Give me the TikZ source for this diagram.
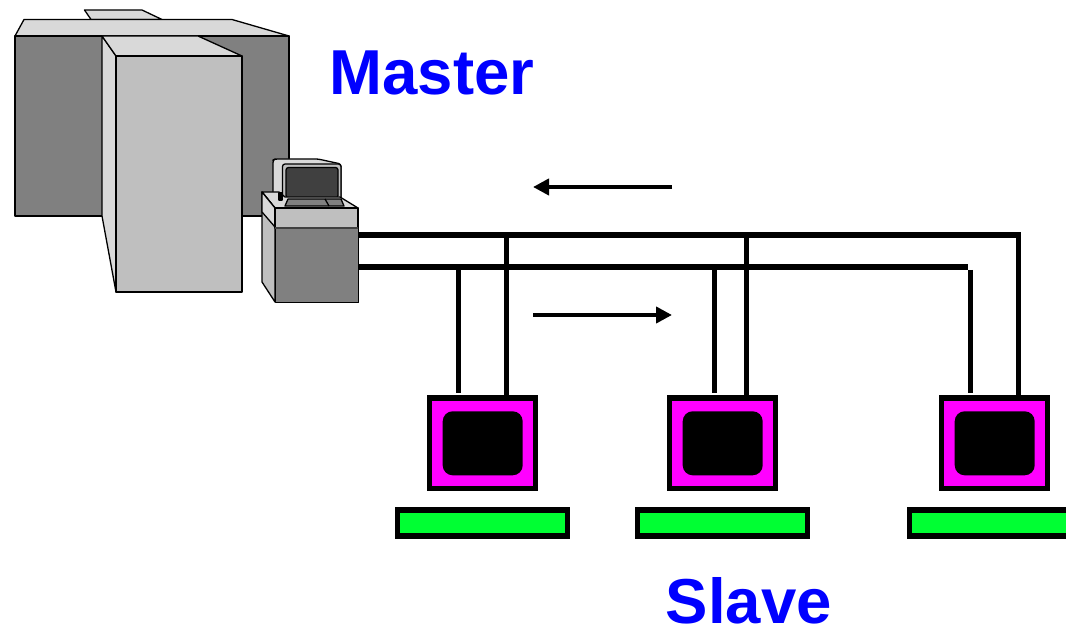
\documentclass[tikz,border=0pt]{standalone}
\usepackage{fontspec}
\setmainfont{Liberation Sans}
\usetikzlibrary{arrows.meta}
\definecolor{lgrey}{HTML}{D9D9D9}
\definecolor{mgrey}{HTML}{BFBFBF}
\definecolor{dgrey}{HTML}{808080}
\definecolor{scr}{HTML}{404040}
\definecolor{mag}{HTML}{FF00FF}
\definecolor{grn}{HTML}{00FF33}
\definecolor{blu}{HTML}{0000FF}
\tikzset{
 x=1pt,y=-1pt,
 part/.style={draw=black,line width=1.3pt,line join=round},
 wire/.style={draw=black,line width=5.6pt},
 flow/.style={draw=black,line width=4.8pt,-{Stealth[length=16pt,width=16pt,inset=0pt]}},
 caption/.style={text=blu,font=\bfseries\fontsize{63.5}{64}\selectfont,inner sep=0pt,anchor=base west},
 monitor/.style={draw=black,fill=mag,line width=5.6pt,minimum width=106pt,minimum height=90.6pt,inner sep=0pt},
 screen/.style={fill=black,rounded corners=10pt,minimum width=80pt,minimum height=64pt,inner sep=0pt},
 kbd/.style={draw=black,fill=grn,line width=5.6pt,minimum width=170pt,minimum height=26.4pt,inner sep=0pt},
}
\begin{document}
\begin{tikzpicture}
\useasboundingbox (0,0) rectangle (1066,628);
% master machine
\draw[part,fill=lgrey] (84.5,10) -- (142,10) -- (162,19.5) -- (91,19.5) -- cycle;
\draw[part,fill=lgrey] (15,36) -- (24,19.5) -- (232,19.5) -- (289,36) -- cycle;
\draw[part,fill=dgrey] (15,36) rectangle (289,216);
\draw[part,fill=lgrey] (102,36) -- (116,56) -- (116,292) -- (102,216) -- cycle;
\draw[part,fill=lgrey] (102,36) -- (198,36) -- (242,56) -- (116,56) -- cycle;
\draw[part,fill=mgrey] (116,56) rectangle (242,292);
% terminal
\draw[part,fill=lgrey,rounded corners=2.5pt] (273,205) -- (273,160) -- (275,159) -- (318,159) -- (341,164) -- (341,205) -- cycle;
\draw[part,fill=mgrey,rounded corners=2.5pt] (282.5,200) -- (282.5,164) -- (341,164) -- (341,200) -- cycle;
\draw[part,fill=scr,rounded corners=2.5pt] (286,198) -- (286,167.5) -- (338,167.5) -- (338,198) -- cycle;
\draw[part,fill=lgrey] (262,192) -- (279,192) -- (285,197) -- (340,197) -- (358,208) -- (275,208) -- cycle;
\draw[part,fill=dgrey] (285,206) -- (288,199) -- (341,199) -- (344,206) -- cycle;
\draw[part,fill=black] (279,193) rectangle (282,200);
\draw[part] (325,199) -- (329,206);
\draw[part,fill=mgrey] (262,192) -- (275,208) -- (275,302) -- (262,282) -- cycle;
\draw[part,fill=lgrey] (262,192) -- (275,208) -- (275,227) -- (262,212) -- cycle;
\draw[part,fill=mgrey] (275,208) rectangle (358,228);
\node[part,fill=dgrey,inner sep=0pt,minimum width=83pt,minimum height=74pt,anchor=north west] (term) at (275,228) {};
\draw[draw=black!75,line width=2pt] (275,228) -- (358,228);
% slaves
\foreach \n/\dx in {a/0,b/240,c/512}{
 \node[monitor] (mon\n) at (482.5+\dx,443) {};
 \node[screen] at (482.7+\dx,443.3) {};
 \node[kbd] (kbd\n) at (482.5+\dx,523) {};
}
% named junctions
\coordinate (t0) at (term.north east |- 0,235);
\coordinate (b0) at (term.north east |- 0,267);
\coordinate (ta) at (506.5,235);
\coordinate (tb) at (746.5,235);
\coordinate (tc) at (1018.5,235);
\coordinate (ba) at (458.5,267);
\coordinate (bb) at (714.5,267);
\coordinate (bc) at (968,267);
\coordinate (sa) at (458.5,392.5);
\coordinate (sb) at (714.5,392.5);
\coordinate (sc) at (970.5,392.5);
\coordinate (sc0) at (970.5,270);
\draw[wire] (t0) -- (tc) -- (tc |- monc.north);
\draw[wire] (b0) -- (bc);
\draw[wire] (ta) -- (ta |- mona.north);
\draw[wire] (tb) -- (tb |- monb.north);
\draw[wire] (ba) -- (sa);
\draw[wire] (bb) -- (sb);
\draw[wire] (sc0) -- (sc);
% flow arrows
\coordinate (fa) at (672,187);
\coordinate (fb) at (533,187);
\coordinate (fc) at (533,315);
\coordinate (fd) at (672,315);
\draw[flow] (fa) -- (fb);
\draw[flow] (fc) -- (fd);
% text
\node[caption] (master) at (329.5,94.5) {Master};
\node[caption] (slave) at (665.5,623) {Slave};
\end{tikzpicture}
\end{document}
